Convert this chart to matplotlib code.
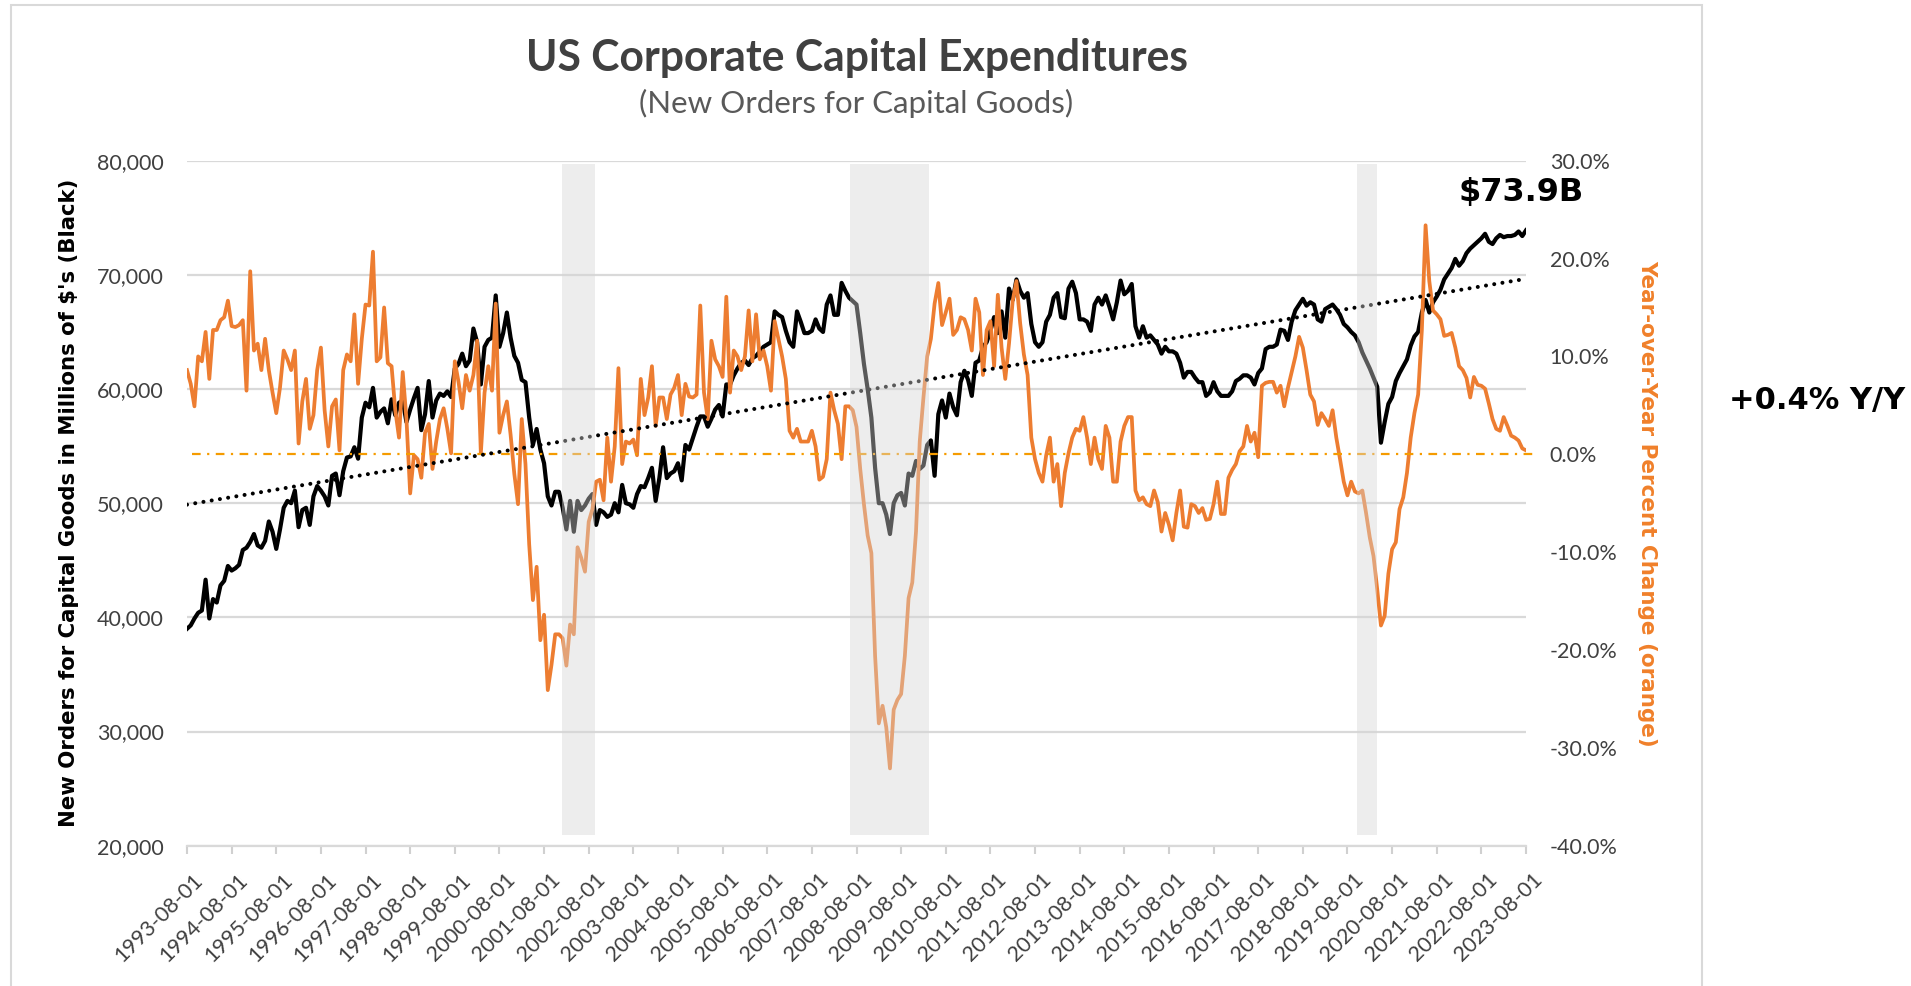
import numpy as np
import pandas as pd
import matplotlib
matplotlib.use("Agg")
import matplotlib.pyplot as plt
import matplotlib.ticker as mticker
from matplotlib.patches import Rectangle
from matplotlib.transforms import ScaledTranslation

# ---------------- data ----------------
first_month = "1993-08-01"
n_months = 361

# New orders for capital goods, millions of $ (black line)
orders = [
    39000, 39300, 39900, 40400, 40600, 43300, 39900, 41600, 41300, 42800,
    43200, 44500, 44100, 44300, 44600, 45900, 46100, 46600, 47300, 46300,
    46100, 46700, 48400, 47500, 46000, 47700, 49600, 50200, 50000, 51100,
    47900, 49400, 49600, 48100, 50600, 51500, 51100, 50600, 49800, 52400,
    52600, 50700, 52800, 54000, 54100, 54900, 53900, 57500, 58800, 58400,
    60100, 57500, 58000, 58300, 57000, 59100, 57700, 58800, 59000, 57100,
    58200, 59200, 60100, 56400, 57800, 60700, 57500, 59000, 59600, 59400,
    59800, 59300, 61800, 62200, 63100, 62000, 62500, 65300, 64100, 60400,
    63700, 64300, 64500, 68200, 63700, 64900, 66700, 64500, 62900, 62300,
    60800, 60600, 57500, 55100, 56500, 54700, 53500, 50600, 49800, 51000,
    51000, 49600, 47700, 50200, 47500, 50200, 49400, 49800, 50400, 50800,
    48100, 49400, 49200, 48800, 49000, 50000, 49200, 51600, 50000, 49900,
    49600, 50800, 51500, 51400, 52200, 53100, 50200, 52200, 54900, 52200,
    52600, 52800, 53500, 52000, 55100, 54700, 55700, 56700, 57600, 57600,
    56700, 57400, 58200, 58600, 57600, 60400, 60400, 61200, 61800, 62300,
    62500, 62100, 62700, 62900, 63300, 63700, 63900, 64100, 66800, 66500,
    66300, 65100, 64100, 63700, 66800, 65900, 64900, 64900, 65100, 66100,
    65300, 65000, 67400, 68200, 66500, 66500, 69300, 68600, 68000, 67700,
    67400, 64900, 62200, 60000, 57500, 53100, 50000, 50000, 49000, 47300,
    50000, 50700, 50900, 49800, 52600, 52400, 53700, 53000, 53300, 55100,
    55500, 52400, 57800, 59000, 57500, 59600, 58400, 57700, 60600, 61600,
    60800, 59400, 62300, 62500, 63700, 64100, 65100, 66300, 64900, 66800,
    64500, 68800, 67800, 69600, 68600, 68000, 68400, 65700, 64100, 63700,
    64100, 65900, 66500, 68000, 68400, 66300, 66200, 68800, 69400, 68400,
    66100, 66100, 65900, 65100, 67400, 68000, 67400, 68200, 67200, 66100,
    67600, 69500, 68300, 68600, 69200, 65500, 64500, 65500, 64500, 64700,
    64300, 63900, 63100, 63700, 63300, 63300, 63100, 62300, 61000, 61500,
    61500, 61000, 60600, 60600, 59400, 59700, 60600, 59800, 59400, 59400,
    59400, 59800, 60700, 60900, 61200, 61200, 61000, 60400, 61400, 61800,
    63500, 63700, 63700, 63900, 65200, 65100, 64300, 65900, 66900, 67400,
    67900, 67300, 67600, 67400, 66100, 65900, 67000, 67200, 67400, 67000,
    66500, 65700, 65400, 65000, 64700, 64100, 63200, 62500, 61800, 61000,
    60200, 55300, 57100, 58700, 59300, 60700, 61400, 62000, 62600, 63800,
    64600, 65000, 66700, 67800, 66700, 67600, 68100, 68700, 69600, 70100,
    70600, 71400, 70800, 71200, 71900, 72300, 72600, 72900, 73200, 73600,
    72900, 72700, 73200, 73500, 73300, 73400, 73400, 73500, 73800, 73400,
    73900,
]

# Year-over-year percent change (orange line)
yoy = [
    8.6, 7.2, 4.9, 10.0, 9.5, 12.5, 7.7, 12.7, 12.7, 13.7,
    14.0, 15.7, 13.1, 13.0, 13.2, 13.7, 6.5, 18.7, 10.6, 11.3,
    8.6, 11.8, 8.6, 6.3, 4.2, 6.8, 10.6, 9.7, 8.6, 10.6,
    1.1, 5.4, 7.7, 2.6, 4.0, 8.6, 10.9, 4.5, 0.8, 4.9,
    5.6, 0.4, 8.6, 10.2, 9.5, 14.3, 7.2, 11.8, 15.3, 15.2,
    20.7, 9.5, 9.9, 15.0, 9.3, 9.0, 4.5, 1.7, 8.4, 3.6,
    -4.0, -0.1, -0.5, -2.4, 2.2, 3.1, -1.5, 1.3, 3.6, 4.7,
    2.6, 0.1, 9.5, 7.4, 4.7, 8.1, 6.5, 8.1, 11.6, 0.1,
    6.3, 9.0, 6.5, 15.4, 2.2, 4.0, 5.4, 2.0, -2.0, -5.1,
    3.6, -1.0, -9.2, -14.9, -11.5, -19.0, -16.4, -24.1, -21.5, -18.4,
    -18.4, -18.8, -21.6, -17.4, -18.4, -9.5, -10.6, -12.0, -6.9, -5.6,
    -2.8, -2.6, -4.7, 1.7, -2.8, 0.8, 8.8, -1.0, 1.3, 1.1,
    1.5, -0.1, 7.7, 4.0, 5.8, 9.0, 2.9, 5.8, 5.8, 3.6,
    6.1, 6.8, 8.1, 4.0, 7.2, 5.9, 5.8, 6.1, 15.2, 6.3,
    3.6, 11.6, 9.7, 9.0, 7.9, 16.1, 6.3, 10.6, 10.0, 8.6,
    10.0, 14.7, 9.5, 14.3, 9.7, 10.6, 9.0, 6.5, 13.6, 11.8,
    10.0, 7.7, 2.4, 1.7, 2.6, 1.3, 1.3, 1.3, 2.4, 0.8,
    -2.6, -2.3, -0.5, 6.3, 4.5, 3.1, -0.5, 4.9, 4.9, 4.5,
    2.8, -1.5, -5.1, -8.3, -10.1, -20.6, -27.5, -25.7, -27.9, -32.1,
    -26.1, -25.1, -24.5, -20.6, -14.7, -13.1, -7.9, 1.3, 5.8, 10.0,
    11.8, 15.4, 17.5, 13.2, 14.5, 15.9, 12.2, 12.7, 14.0, 13.8,
    12.7, 10.6, 15.9, 14.5, 8.1, 12.7, 13.6, 9.0, 16.3, 10.9,
    7.7, 11.3, 15.7, 17.7, 13.4, 10.2, 8.1, 1.7, -0.5, -1.9,
    -2.8, -0.1, 1.7, -2.8, -1.0, -5.3, -1.9, 0.1, 1.7, 2.6,
    2.4, 3.8, 1.7, -1.0, 1.7, -0.5, -1.5, 2.9, 1.7, -2.8,
    -2.8, 1.3, 2.9, 3.8, 3.8, -3.7, -4.7, -4.4, -5.1, -5.3,
    -3.7, -4.9, -7.9, -6.0, -7.2, -8.8, -6.0, -3.7, -7.4, -7.5,
    -5.1, -5.3, -6.0, -5.5, -6.7, -6.6, -5.1, -2.8, -6.1, -6.1,
    -2.4, -1.6, -1.0, 0.3, 0.8, 2.9, 1.3, 2.2, -0.3, 7.0,
    7.3, 7.4, 7.4, 6.3, 7.0, 4.9, 6.8, 8.4, 10.0, 12.0,
    10.9, 8.6, 6.1, 5.4, 3.0, 4.2, 3.6, 2.9, 4.5, 1.7,
    -0.5, -2.8, -4.2, -2.8, -3.8, -4.0, -3.7, -6.0, -8.5, -10.4,
    -13.8, -17.5, -16.5, -12.2, -9.7, -9.0, -5.6, -4.4, -1.9, 1.7,
    4.2, 6.1, 12.7, 23.4, 17.7, 14.7, 14.3, 13.8, 12.1, 12.2,
    12.4, 10.9, 9.0, 8.6, 7.8, 5.8, 7.9, 7.1, 7.0, 6.7,
    5.2, 3.6, 2.6, 2.4, 3.8, 2.9, 1.9, 1.7, 1.4, 0.6,
    0.4,
]

# Shaded recession periods
rec_start = ["2001-12-25", "2008-06-08", "2019-10-20"]
rec_end = ["2002-09-22", "2010-03-14", "2020-03-28"]

title = "US Corporate Capital Expenditures"
subtitle = "(New Orders for Capital Goods)"
left_label = "New Orders for Capital Goods in Millions of $'s (Black)"
right_label = "Year-over-Year Percent Change (orange)"
latest_label = "$73.9B"
yoy_label = "+0.4% Y/Y"

# ---------------- figure ----------------
dates = pd.date_range(first_month, periods=n_months, freq="MS")
x = np.arange(len(dates))
assert len(orders) == n_months and len(yoy) == n_months


def month_pos(s):
    d = pd.Timestamp(s)
    d0 = pd.Timestamp(first_month)
    return (d.year - d0.year) * 12 + (d.month - d0.month) + (d.day - 1) / 30.0


W, H = 1911, 986
fig = plt.figure(figsize=(W / 100, H / 100), dpi=100)
fig.patch.set_facecolor("white")

L, R, T, B = 187, 1526, 160.7, 845.7
ax = fig.add_axes([L / W, 1 - B / H, (R - L) / W, (B - T) / H])
ax2 = ax.twinx()

TICK_FONT = "Lato"
tick_color = "#404040"
grid_color = "#D9D9D9"

ax.set_xlim(0, n_months - 1)
ax.set_ylim(20000, 80000)
ax2.set_ylim(-40, 30)

ax.set_yticks(np.arange(20000, 80001, 10000))
ax.yaxis.set_major_formatter(mticker.FuncFormatter(lambda v, p: f"{v:,.0f}"))
ax2.set_yticks(np.arange(-40, 31, 10))
ax2.yaxis.set_major_formatter(mticker.FuncFormatter(lambda v, p: f"{v:.1f}%"))

ax.grid(axis="y", color=grid_color, lw=1.6, zorder=0)
ax.set_axisbelow(True)
for a in (ax, ax2):
    for s in a.spines.values():
        s.set_visible(False)
ax.spines["bottom"].set_visible(True)
ax.spines["bottom"].set_color(grid_color)
ax.spines["bottom"].set_linewidth(1.6)

ax.tick_params(axis="y", length=0, pad=16.5, labelsize=15.5, labelcolor=tick_color)
ax2.tick_params(axis="y", length=0, pad=17, labelsize=15.5, labelcolor=tick_color)
for lab in ax.get_yticklabels() + ax2.get_yticklabels():
    lab.set_fontfamily(TICK_FONT)

ax.set_xticks(x[::12])
ax.set_xticklabels([d.strftime("%Y-%m-%d") for d in dates[::12]],
                   rotation=45, ha="right", va="top", rotation_mode="anchor",
                   fontsize=15.5, color=tick_color, fontfamily=TICK_FONT)
ax.tick_params(axis="x", length=5.8, width=1.5, color="#D0D0D0", pad=11.5)
offset = ScaledTranslation(0.06, 0, fig.dpi_scale_trans)
for lab in ax.get_xticklabels():
    lab.set_transform(lab.get_transform() + offset)

# black series and orange series
ax.plot(x, orders, color="black", lw=3.0, solid_joinstyle="round", zorder=3)
ax2.plot(x, yoy, color="#ED7D31", lw=2.7, solid_joinstyle="round", zorder=3)

# zero line (dash-dot)
ax2.axhline(0, xmin=0.004, xmax=1.007, color="#F59B00", lw=1.6,
            dashes=(3.9, 2.9, 1.0, 2.9), clip_on=False, zorder=4)

# linear trend on the black series
coef = np.polyfit(x, orders, 1)
trend = np.polyval(coef, x)
ax2.plot(x, trend, transform=ax.transData, color="black", lw=2.9,
         linestyle=(0, (0.01, 2.06)), dash_capstyle="round", zorder=5)

# recession shading drawn over the lines (semi transparent)
for s, e in zip(rec_start, rec_end):
    xs, xe = month_pos(s), month_pos(e)
    ax2.add_patch(Rectangle((xs, 20900), xe - xs, 79700 - 20900,
                            transform=ax.transData, facecolor="#D6D6D6",
                            edgecolor="none", alpha=0.42, zorder=6))

# ---------------- texts ----------------
fig.text(856.5 / W, 1 - 71 / H, title, ha="center", va="baseline",
         fontsize=30.7, fontweight="bold", family="Lato", color="#404040")
fig.text(856.5 / W, 1 - 113.3 / H, subtitle, ha="center", va="baseline",
         fontsize=22.5, family="Lato", color="#595959")

fig.text(69 / W, 1 - 503 / H, left_label, rotation=90, ha="center", va="center",
         fontsize=15.3, fontweight="bold", family="DejaVu Sans", color="black",
         parse_math=False)
fig.text(1647 / W, 1 - 503 / H, right_label, rotation=270, ha="center", va="center",
         fontsize=15.5, fontweight="bold", family="DejaVu Sans", color="#F0802A")

fig.text(1521 / W, 1 - 193 / H, latest_label, ha="center", va="center",
         fontsize=23, fontweight="bold", family="DejaVu Sans", color="black",
         parse_math=False)
fig.text(1817 / W, 1 - 400 / H, yoy_label, ha="center", va="center",
         fontsize=22, fontweight="bold", family="DejaVu Sans", color="black")

# outer chart frame
fig.add_artist(Rectangle((11 / W, -0.05), (1702 - 11) / W, 1.05 - 5 / H,
                         transform=fig.transFigure, facecolor="none",
                         edgecolor="#D9D9D9", lw=1.5, clip_on=False))

fig.savefig("out.png", dpi=100, facecolor="white")
